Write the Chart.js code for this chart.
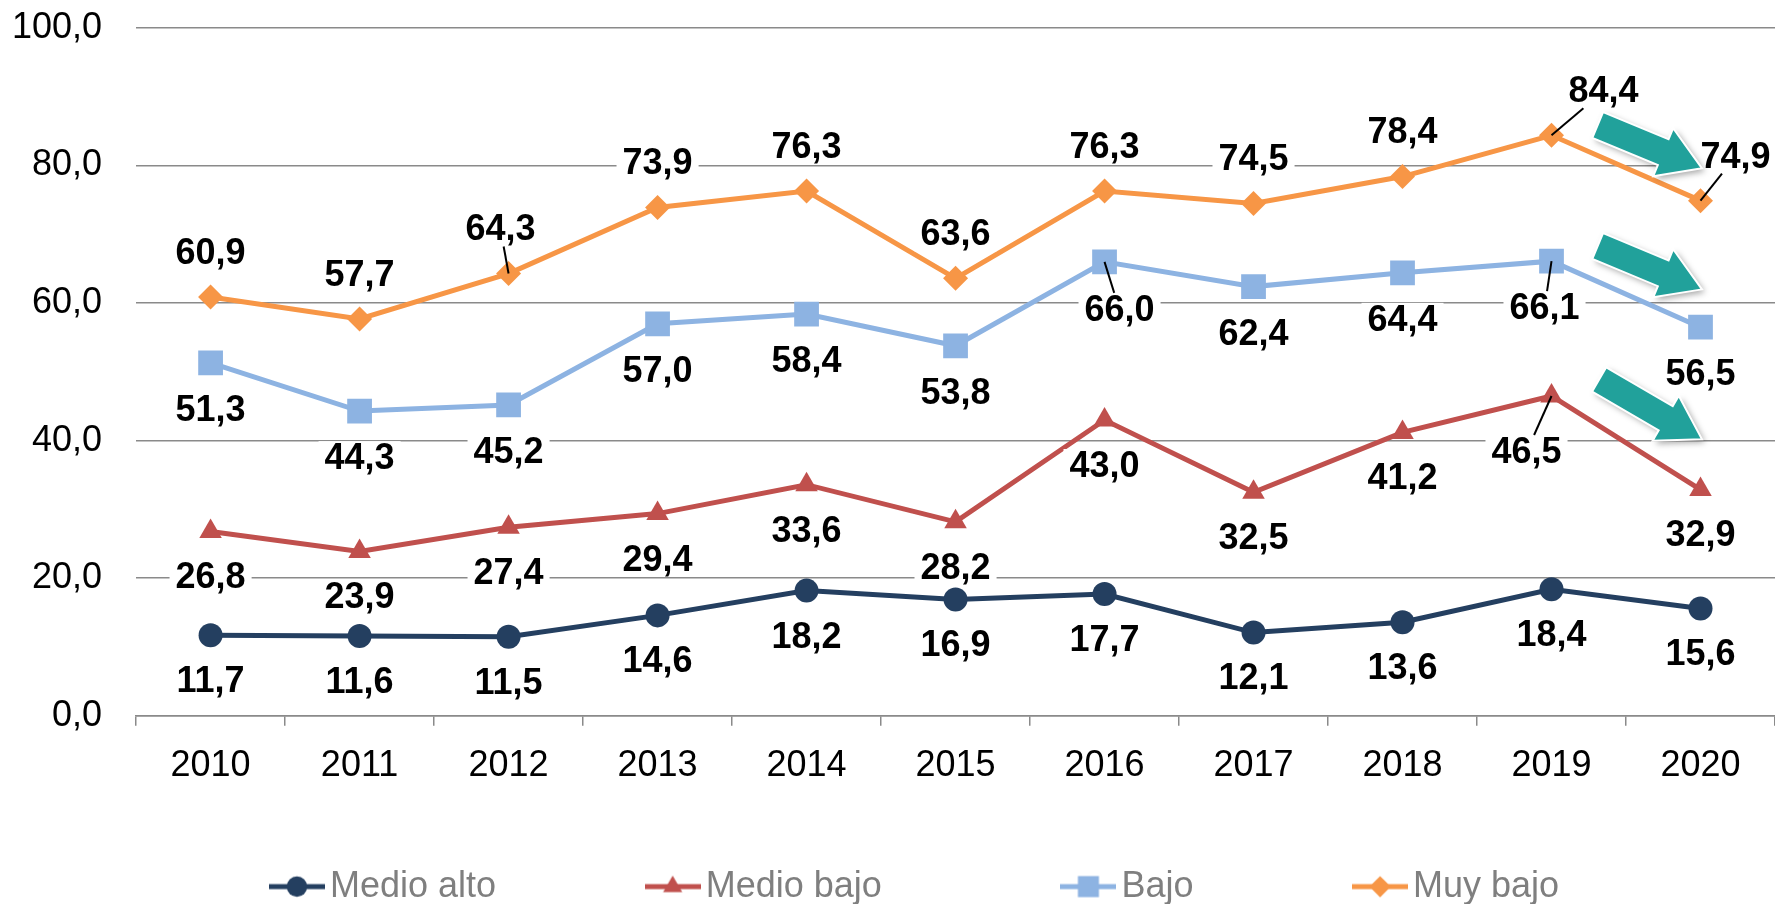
<!DOCTYPE html>
<html>
<head>
<meta charset="utf-8">
<title>Pobreza por nivel</title>
<script src="https://cdn.jsdelivr.net/npm/chart.js@4.4.1/dist/chart.umd.min.js"></script>
<style>
  html, body { margin: 0; padding: 0; background: #fff; }
  #wrap { width: 1775px; height: 904px; }
</style>
</head>
<body>
<div id="wrap"><canvas id="chart" width="1775" height="904"></canvas></div>
<script>
// Data
const years = ["2010", "2011", "2012", "2013", "2014", "2015", "2016", "2017", "2018", "2019", "2020"];
const medioAlto = [11.7, 11.6, 11.5, 14.6, 18.2, 16.9, 17.7, 12.1, 13.6, 18.4, 15.6];
const medioBajo = [26.8, 23.9, 27.4, 29.4, 33.6, 28.2, 43.0, 32.5, 41.2, 46.5, 32.9];
const bajo = [51.3, 44.3, 45.2, 57.0, 58.4, 53.8, 66.0, 62.4, 64.4, 66.1, 56.5];
const muyBajo = [60.9, 57.7, 64.3, 73.9, 76.3, 63.6, 76.3, 74.5, 78.4, 84.4, 74.9];
const yTicks = [0, 20, 40, 60, 80, 100];

// trend arrows, in (category index, value) units: [x0, y0, x1, y1]
const trendArrows = [
  [9.31, 85.9, 10.01, 79.6],
  [9.31, 68.3, 10.01, 62.0],
  [9.32, 48.9, 10.01, 40.2]
];

const FONT = '"Liberation Sans", Arial, sans-serif';
const GRID = "#8a8a8a";

// label placement (pixels from the point); moved labels get a leader line
const defaultLabelDy = [46, 46, 47, -44];
const labelNudges = [
  {},
  { 9: [-25, 56] },
  { 6: [15, 48], 9: [-7, 47] },
  { 2: [-8, -44], 9: [52, -44], 10: [35, -44] }
];
// extra room after legend texts (the Excel legend spreads its entries out)
const legendGaps = ["          ", "             ", "           ", "       "];

const fmt = v => v.toFixed(1).replace(".", ",");

function legendMarker(color, style, radius) {
  const c = document.createElement("canvas");
  c.width = 56;
  c.height = 30;
  const g = c.getContext("2d");
  g.strokeStyle = color;
  g.lineWidth = 5;
  g.beginPath();
  g.moveTo(0, 15);
  g.lineTo(56, 15);
  g.stroke();
  g.fillStyle = color;
  Chart.helpers.drawPoint(g, { pointStyle: style, radius: radius, borderWidth: 0, rotation: 0 }, 28, 15);
  return c;
}

const valueLabels = {
  id: "valueLabels",
  afterDatasetsDraw(chart) {
    const ctx = chart.ctx;
    ctx.save();
    ctx.font = "bold 36px " + FONT;
    ctx.textAlign = "center";
    ctx.textBaseline = "middle";
    chart.data.datasets.forEach((ds, di) => {
      const meta = chart.getDatasetMeta(di);
      meta.data.forEach((pt, i) => {
        const nudge = labelNudges[di][i];
        const dx = nudge ? nudge[0] : 0;
        const dy = nudge ? nudge[1] : defaultLabelDy[di];
        const lx = pt.x + dx;
        const ly = pt.y + dy;
        const text = fmt(ds.data[i]);
        const w = ctx.measureText(text).width;
        const hw = w / 2 + 6;
        const hh = 17;
        ctx.fillStyle = "#fff";
        ctx.fillRect(lx - hw, ly - hh, hw * 2, hh * 2);
        ctx.fillStyle = "#000";
        ctx.fillText(text, lx, ly + 1);
        if (nudge) {
          const ddx = pt.x - lx;
          const ddy = pt.y - ly;
          const t = Math.min(hw / Math.max(Math.abs(ddx), 1e-6), hh / Math.max(Math.abs(ddy), 1e-6));
          ctx.strokeStyle = "#000";
          ctx.lineWidth = 2;
          ctx.beginPath();
          ctx.moveTo(lx + ddx * t, ly + ddy * t);
          ctx.lineTo(pt.x, pt.y);
          ctx.stroke();
        }
      });
    });
    ctx.restore();
  }
};

const arrowsPlugin = {
  id: "arrows",
  afterDraw(chart) {
    const ctx = chart.ctx;
    const xs = chart.scales.x;
    const ys = chart.scales.y;
    trendArrows.forEach(a => {
      const x0 = xs.getPixelForValue(a[0]);
      const y0 = ys.getPixelForValue(a[1]);
      const x1 = xs.getPixelForValue(a[2]);
      const y1 = ys.getPixelForValue(a[3]);
      const ang = Math.atan2(y1 - y0, x1 - x0);
      const len = Math.hypot(x1 - x0, y1 - y0);
      const bw = 14, hw = 26, hl = 42;
      ctx.save();
      ctx.translate(x0, y0);
      ctx.rotate(ang);
      ctx.beginPath();
      ctx.moveTo(0, -bw);
      ctx.lineTo(len - hl, -bw);
      ctx.lineTo(len - hl, -hw);
      ctx.lineTo(len, 0);
      ctx.lineTo(len - hl, hw);
      ctx.lineTo(len - hl, bw);
      ctx.lineTo(0, bw);
      ctx.closePath();
      ctx.shadowColor = "rgba(0,0,0,0.35)";
      ctx.shadowBlur = 6;
      ctx.shadowOffsetX = 3;
      ctx.shadowOffsetY = 3;
      ctx.fillStyle = "#21A19B";
      ctx.fill();
      ctx.shadowColor = "transparent";
      ctx.strokeStyle = "#fff";
      ctx.lineWidth = 2;
      ctx.stroke();
      ctx.restore();
    });
  }
};

const series = [
  { label: "Medio alto", data: medioAlto, color: "#243F60", style: "circle", radius: 12 },
  { label: "Medio bajo", data: medioBajo, color: "#C0504D", style: "triangle", radius: 13 },
  { label: "Bajo", data: bajo, color: "#8DB3E2", style: "rect", radius: 17.5 },
  { label: "Muy bajo", data: muyBajo, color: "#F79646", style: "rectRot", radius: 12.5 }
];

new Chart(document.getElementById("chart").getContext("2d"), {
  type: "line",
  data: {
    labels: years,
    datasets: series.map(s => ({
      label: s.label,
      data: s.data,
      borderColor: s.color,
      backgroundColor: s.color,
      borderWidth: 5,
      pointStyle: s.style,
      pointRadius: s.radius,
      pointBorderWidth: 0,
      pointBackgroundColor: s.color,
      tension: 0,
      fill: false
    }))
  },
  options: {
    responsive: false,
    animation: false,
    layout: { autoPadding: false, padding: { left: -22, right: 0, top: 28, bottom: -10.6 } },
    scales: {
      x: {
        offset: true,
        afterFit: s => { s.paddingLeft = 0; s.paddingRight = 0; },
        grid: { offset: true, drawOnChartArea: false, drawTicks: true, tickLength: 10, color: GRID, lineWidth: 1.5 },
        border: { display: true, color: GRID, width: 1.5 },
        ticks: { padding: 19, color: "#000", font: { size: 36, family: FONT } }
      },
      y: {
        min: 0,
        max: 100,
        afterFit: s => { s.paddingTop = 0; s.paddingBottom = 0; },
        afterBuildTicks: axis => { axis.ticks = yTicks.map(v => ({ value: v })); },
        grid: { drawTicks: false, color: GRID, lineWidth: 1.5 },
        border: { display: false },
        ticks: { padding: 34, color: "#000", font: { size: 36, family: FONT }, callback: v => fmt(v) }
      }
    },
    plugins: {
      legend: {
        position: "bottom",
        fullSize: false,
        labels: {
          usePointStyle: true,
          pointStyleWidth: 30,
          padding: 61.6,
          color: "#7F7F7F",
          font: { size: 36, family: FONT },
          generateLabels: chart => chart.data.datasets.map((ds, i) => ({
            text: ds.label + legendGaps[i],
            pointStyle: legendMarker(series[i].color, series[i].style, series[i].radius * 0.85),
            fillStyle: series[i].color,
            strokeStyle: series[i].color,
            fontColor: "#7F7F7F",
            lineWidth: 0,
            hidden: false,
            datasetIndex: i
          }))
        }
      },
      tooltip: { enabled: false }
    }
  },
  plugins: [valueLabels, arrowsPlugin]
});
</script>
</body>
</html>
